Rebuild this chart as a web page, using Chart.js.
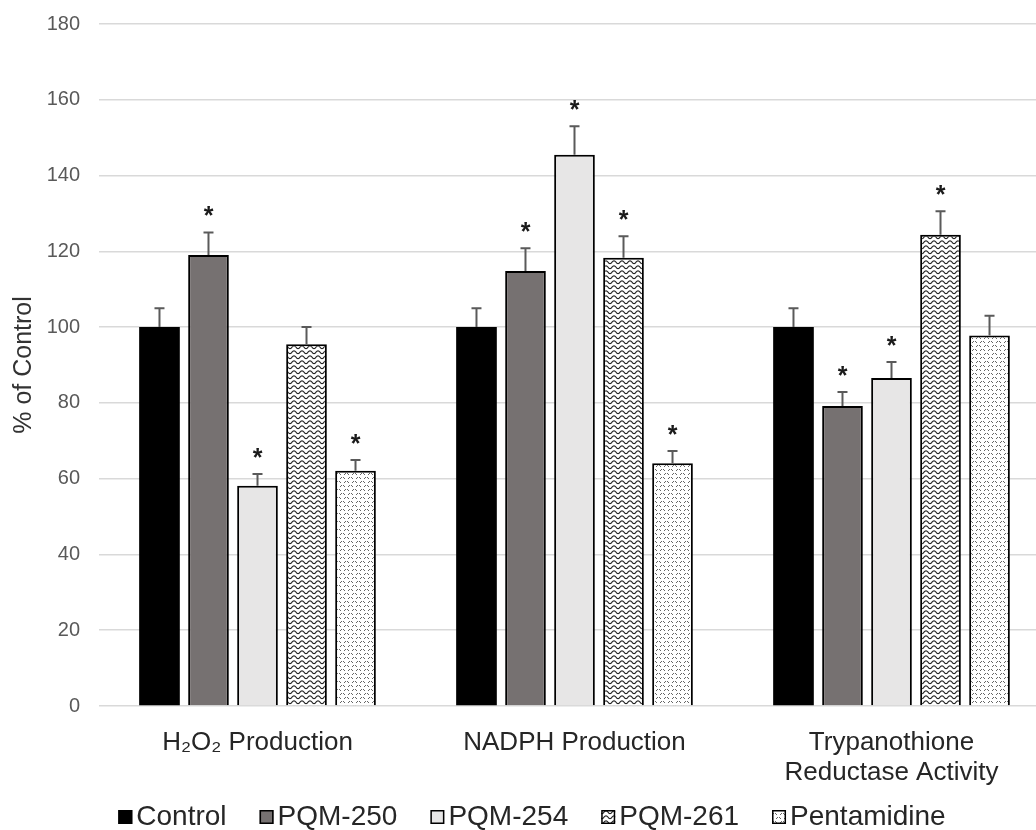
<!DOCTYPE html>
<html>
<head>
<meta charset="utf-8">
<script src="https://cdn.jsdelivr.net/npm/chart.js@4.4.0/dist/chart.umd.min.js"></script>
<style>
  html, body { margin: 0; padding: 0; background: #fff; overflow: hidden; }
  #wrap { width: 1036px; height: 830px; overflow: hidden; position: relative; }
  canvas { display: block; }
</style>
</head>
<body>
<div id="wrap"><canvas id="chart" width="1056" height="830"></canvas></div>
<script>
// Assay categories (x axis)
const categories = [["H₂O₂ Production"], ["NADPH Production"], ["Trypanothione", "Reductase Activity"]];
const seriesNames = ["Control", "PQM-250", "PQM-254", "PQM-261", "Pentamidine"];

// Mean values, % of control
const control     = [100, 100, 100];
const pqm250      = [119.0, 114.8, 79.2];
const pqm254      = [58.1, 145.5, 86.6];
const pqm261      = [95.5, 118.3, 124.4];
const pentamidine = [62.1, 64.1, 97.8];

// Upper error (SD)
const controlErr     = [5.0, 5.0, 5.0];
const pqm250Err      = [6.0, 6.0, 3.7];
const pqm254Err      = [3.1, 7.5, 4.2];
const pqm261Err      = [4.5, 5.7, 6.2];
const pentamidineErr = [2.8, 3.2, 5.2];

// Significance vs control (asterisk)
const controlSig     = [false, false, false];
const pqm250Sig      = [true, true, true];
const pqm254Sig      = [true, true, true];
const pqm261Sig      = [false, true, true];
const pentamidineSig = [true, true, false];

// Y axis ticks
const yTicks = [0, 20, 40, 60, 80, 100, 120, 140, 160, 180];

const FONT = "'Liberation Sans', Arial, Helvetica, sans-serif";

// ---- fill patterns ----
function makeTile(w, h, draw) {
  const t = document.createElement('canvas');
  t.width = w; t.height = h;
  const g = t.getContext('2d');
  g.fillStyle = '#ffffff';
  g.fillRect(0, 0, w, h);
  draw(g);
  return t;
}
const ctxMain = document.getElementById('chart').getContext('2d');

const waveTile = makeTile(8, 5, g => {
  g.strokeStyle = '#222222';
  g.lineWidth = 1.1;
  g.beginPath();
  for (let x = -1; x <= 9; x += 0.5) {
    const y = 2.2 + 1.4 * Math.sin((x / 8) * Math.PI * 2);
    if (x === -1) g.moveTo(x, y); else g.lineTo(x, y);
  }
  g.stroke();
});
const wavePattern = ctxMain.createPattern(waveTile, 'repeat');

const dotTile = makeTile(8, 8, g => {
  g.fillStyle = '#666666';
  [[0, 2], [1, 1], [3, 1], [4, 2], [4, 6], [5, 5], [7, 5], [0, 6]].forEach(([x, y]) => g.fillRect(x, y, 1, 1));
});
const dotPattern = ctxMain.createPattern(dotTile, 'repeat');

const fills = ['#000000', '#767171', '#e7e6e6', wavePattern, dotPattern];
const seriesValues = [control, pqm250, pqm254, pqm261, pentamidine];
const seriesErr = [controlErr, pqm250Err, pqm254Err, pqm261Err, pentamidineErr];
const seriesSig = [controlSig, pqm250Sig, pqm254Sig, pqm261Sig, pentamidineSig];

const datasets = seriesNames.map((name, i) => ({
  label: name,
  data: seriesValues[i],
  backgroundColor: fills[i],
  borderColor: '#000000',
  borderWidth: i === 0 ? 0 : 2,
  errUp: seriesErr[i],
  sig: seriesSig[i]
}));

// Upward error bars and significance asterisks
const errorBarPlugin = {
  id: 'errorBars',
  afterDatasetsDraw(chart) {
    const ctx = chart.ctx;
    const y = chart.scales.y;
    ctx.save();
    chart.data.datasets.forEach((ds, di) => {
      const meta = chart.getDatasetMeta(di);
      meta.data.forEach((bar, i) => {
        const top = y.getPixelForValue(ds.data[i]);
        const eTop = y.getPixelForValue(ds.data[i] + ds.errUp[i]);
        ctx.strokeStyle = '#5a5a5a';
        ctx.lineWidth = 2;
        ctx.beginPath();
        ctx.moveTo(bar.x, top);
        ctx.lineTo(bar.x, eTop);
        ctx.moveTo(bar.x - 5, eTop);
        ctx.lineTo(bar.x + 5, eTop);
        ctx.stroke();
        if (ds.sig[i]) {
          ctx.fillStyle = '#1a1a1a';
          ctx.font = 'bold 25px ' + FONT;
          ctx.textAlign = 'center';
          ctx.textBaseline = 'alphabetic';
          ctx.fillText('*', bar.x, eTop - 22 + 14);
        }
      });
    });
    ctx.restore();
  }
};

// Bottom legend with compact swatch-to-text spacing
const legendPlugin = {
  id: 'bottomLegend',
  afterDraw(chart) {
    const ctx = chart.ctx;
    ctx.save();
    ctx.font = '28px ' + FONT;
    const box = 14, gapText = 4, gapItem = 33;
    const widths = seriesNames.map(n => ctx.measureText(n).width);
    const total = widths.reduce((a, w) => a + box + gapText + w, 0) + gapItem * (seriesNames.length - 1);
    let x = 532 - total / 2;
    const cy = 817;
    seriesNames.forEach((name, i) => {
      ctx.fillStyle = fills[i];
      ctx.fillRect(x, cy - box / 2, box, box);
      ctx.strokeStyle = '#000';
      ctx.lineWidth = 1.5;
      ctx.strokeRect(x + 0.75, cy - box / 2 + 0.75, box - 1.5, box - 1.5);
      ctx.fillStyle = '#262626';
      ctx.textAlign = 'left';
      ctx.textBaseline = 'middle';
      ctx.fillText(name, x + box + gapText, cy);
      x += box + gapText + widths[i] + gapItem;
    });
    ctx.restore();
  }
};

new Chart(ctxMain, {
  type: 'bar',
  data: { labels: categories, datasets },
  options: {
    responsive: false,
    devicePixelRatio: 1,
    animation: false,
    layout: { padding: { top: 24, right: 6, left: 2, bottom: 0 } },
    datasets: { bar: { categoryPercentage: 0.773, barPercentage: 0.83 } },
    plugins: { legend: { display: false }, tooltip: { enabled: false } },
    scales: {
      x: {
        grid: { display: false, drawTicks: false },
        border: { display: false },
        ticks: {
          color: '#262626',
          padding: 22,
          maxRotation: 0,
          font: { family: FONT, size: 26, lineHeight: 1.15 }
        },
        afterFit(scale) { scale.height = 124; }
      },
      y: {
        min: 0,
        max: 180,
        afterBuildTicks(scale) { scale.ticks = yTicks.map(v => ({ value: v })); },
        grid: { color: '#d9d9d9', lineWidth: 1.5, drawTicks: false },
        border: { display: false },
        ticks: {
          color: '#595959',
          padding: 19,
          font: { family: FONT, size: 20 }
        },
        title: {
          display: true,
          text: '% of Control',
          color: '#333333',
          padding: { top: 7, bottom: 0 },
          font: { family: FONT, size: 25 }
        },
        afterFit(scale) {
          scale.width = 97;
          scale.paddingTop = 0;
          scale.paddingBottom = 0;
        }
      }
    }
  },
  plugins: [errorBarPlugin, legendPlugin]
});
</script>
</body>
</html>
